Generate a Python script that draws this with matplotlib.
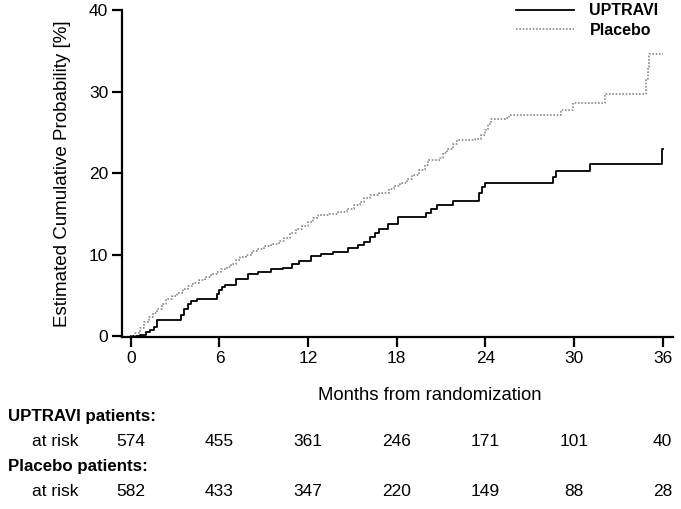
import numpy as np
import matplotlib
matplotlib.use("Agg")
import matplotlib.pyplot as plt
import matplotlib.transforms as mtransforms

plt.rcParams['font.family'] = ['Liberation Sans', 'DejaVu Sans']

# Kaplan-Meier style step curves (months, cumulative probability %)
uptravi_t = [0, 0.6, 1.0, 1.3, 1.6, 1.8, 3.4, 3.6, 3.9, 4.1, 4.45, 5.8, 6.0, 6.2,
             6.4, 7.1, 7.9, 8.6, 9.5, 10.3, 10.9, 11.4, 12.2, 12.9, 13.7, 14.7,
             15.4, 15.8, 16.2, 16.5, 16.8, 17.4, 18.1, 20.0, 20.3, 20.7, 21.8,
             23.6, 23.8, 24.0, 28.6, 28.8, 31.1, 35.95, 36.0]
uptravi_v = [0, 0.2, 0.5, 0.8, 1.1, 2.0, 2.6, 3.3, 3.9, 4.3, 4.6, 5.2, 5.7, 6.0,
             6.3, 7.0, 7.6, 7.9, 8.2, 8.4, 8.9, 9.2, 9.8, 10.1, 10.3, 10.8,
             11.2, 11.6, 12.2, 12.7, 13.2, 13.8, 14.6, 15.1, 15.6, 16.1, 16.6,
             17.5, 18.3, 18.8, 19.5, 20.2, 21.1, 22.9, 22.9]

placebo_t = [0, 0.3, 0.6, 0.9, 1.2, 1.5, 1.8, 2.1, 2.4, 2.8, 3.1, 3.5, 3.9, 4.2,
             4.6, 5.0, 5.4, 5.8, 6.1, 6.5, 6.8, 7.1, 7.4, 7.8, 8.2, 8.6, 9.0,
             9.5, 10.0, 10.4, 10.8, 11.2, 11.6, 12.0, 12.3, 12.7, 13.4, 14.0,
             14.6, 15.1, 15.5, 15.8, 16.2, 16.8, 17.5, 17.8, 18.2, 18.7, 19.0,
             19.5, 19.9, 20.1, 20.9, 21.1, 21.4, 21.8, 22.1, 23.3, 23.7, 24.0,
             24.2, 24.4, 25.3, 25.6, 29.1, 29.9, 32.1, 34.9, 35.0, 35.1, 36.0]
placebo_v = [0, 0.4, 1.0, 1.8, 2.4, 2.9, 3.3, 3.9, 4.5, 4.9, 5.3, 5.8, 6.1, 6.5,
             6.9, 7.3, 7.6, 7.9, 8.3, 8.5, 8.8, 9.3, 9.7, 10.0, 10.4, 10.7, 11.0,
             11.3, 11.7, 12.1, 12.6, 13.1, 13.5, 14.0, 14.5, 14.8, 15.0, 15.2,
             15.6, 16.1, 16.5, 16.9, 17.3, 17.6, 18.0, 18.4, 18.8, 19.3, 19.8,
             20.4, 21.0, 21.6, 21.8, 22.5, 23.0, 23.6, 24.0, 24.2, 24.7, 25.3,
             26.0, 26.6, 26.8, 27.1, 27.7, 28.6, 29.7, 31.5, 33.0, 34.6, 34.6]

xticks = [0, 6, 12, 18, 24, 30, 36]
uptravi_risk = [574, 455, 361, 246, 171, 101, 40]
placebo_risk = [582, 433, 347, 220, 149, 88, 28]

W, H = 681, 509
fig = plt.figure(figsize=(W / 100, H / 100), dpi=100)
ax = fig.add_axes([122 / W, 1 - 337 / H, (673 - 122) / W, (337 - 10) / H])

ax.plot(uptravi_t, uptravi_v, drawstyle='steps-post', color='black', lw=1.3,
        label='UPTRAVI')
ax.plot(placebo_t, placebo_v, drawstyle='steps-post', color='#8a8a8a', lw=1.2,
        linestyle=(0, (1, 1)), label='Placebo')

ax.set_xlim(-0.6, 36.7)
ax.set_ylim(-0.1, 40)
ax.set_xticks(xticks)
ax.set_yticks([0, 10, 20, 30, 40])
for s in ['top', 'right']:
    ax.spines[s].set_visible(False)
for s in ['left', 'bottom']:
    ax.spines[s].set_linewidth(1.6)
ax.tick_params(direction='out', length=7, width=1.6, labelsize=12.5, pad=3)
ax.set_ylabel('Estimated Cumulative Probability [%]', fontsize=13.5, labelpad=13)

leg = ax.legend(loc='upper right', bbox_to_anchor=(1.0, 1.065), frameon=False,
                handlelength=3.6, handletextpad=1.0, labelspacing=0.3,
                prop={'weight': 'bold', 'size': 11.5})

# at-risk table below the axis
trans = mtransforms.blended_transform_factory(ax.transData, fig.transFigure)
fig.text(430 / W, 1 - 396 / H, 'Months from randomization', ha='center',
         va='center', fontsize=13.3)
fig.text(8 / W, 1 - 417 / H, 'UPTRAVI patients:', ha='left', va='center',
         fontsize=12.2, fontweight='bold')
fig.text(8 / W, 1 - 466 / H, 'Placebo patients:', ha='left', va='center',
         fontsize=12.2, fontweight='bold')
fig.text(32 / W, 1 - 442 / H, 'at risk', ha='left', va='center', fontsize=12.5)
fig.text(32 / W, 1 - 491 / H, 'at risk', ha='left', va='center', fontsize=12.5)
for t, a, b in zip(xticks, uptravi_risk, placebo_risk):
    ax.text(t, 1 - 442 / H, str(a), transform=trans, ha='center', va='center',
            fontsize=12.5)
    ax.text(t, 1 - 491 / H, str(b), transform=trans, ha='center', va='center',
            fontsize=12.5)

fig.savefig('out.png', dpi=100)
